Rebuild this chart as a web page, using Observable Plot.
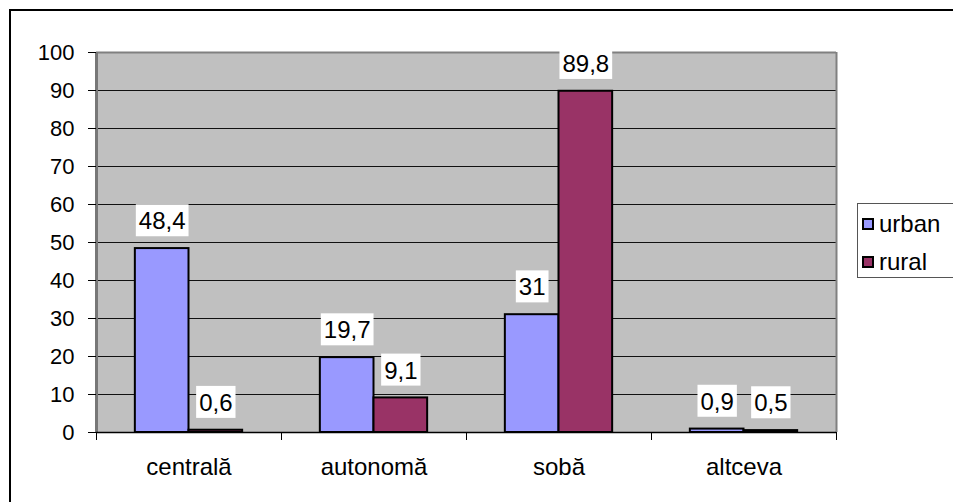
<!DOCTYPE html>
<html><head><meta charset="utf-8">
<script src="https://cdn.jsdelivr.net/npm/d3@7"></script>
<script src="https://cdn.jsdelivr.net/npm/@observablehq/plot@0.6"></script>
<style>
html,body{margin:0;padding:0;background:#fff;overflow:hidden;}
#wrap{position:relative;width:953px;height:502px;font-family:"Liberation Sans",Arial,sans-serif;color:#000;}
#outer{position:absolute;left:9px;top:9px;width:1000px;height:600px;border:2px solid #000;box-sizing:border-box;pointer-events:none;}
#chart{position:absolute;left:0;top:0;}
#legend{position:absolute;left:857px;top:203px;width:120px;height:75px;border:1px solid #555;box-sizing:border-box;background:#fff;}
.row{position:absolute;left:4px;height:30px;display:flex;align-items:center;font-size:24px;}
.sw{width:8px;height:8px;border:2px solid #000;margin-right:5px;}
</style>
</head><body>
<div id="wrap"><div id="outer"></div><div id="chart"></div><div id="legend"></div></div>
<script>
const categories = ["centrală", "autonomă", "sobă", "altceva"];
const series = ["urban", "rural"];
const urban = [48.4, 19.7, 31, 0.9];
const rural = [0.6, 9.1, 89.8, 0.5];
const yTicks = [0, 10, 20, 30, 40, 50, 60, 70, 80, 90, 100];
const colors = ["#9999ff", "#993366"];

const values = {urban, rural};
const table = categories.flatMap((c, i) => series.map((s, j) => ({cat: c, i, series: s, j, value: values[s][i]})));

const bw = 0.29;
const fmt = v => String(v).replace(".", ",");

const plot = Plot.plot({
  width: 953,
  height: 502,
  marginLeft: 96,
  marginRight: 117,
  marginTop: 52,
  marginBottom: 70,
  style: {fontFamily: '"Liberation Sans", Arial, sans-serif', background: "transparent", color: "#000"},
  x: {type: "linear", domain: [0, categories.length], axis: null},
  y: {domain: [0, 100], axis: null},
  color: {domain: series, range: colors},
  marks: [
    Plot.frame({fill: "#c0c0c0", stroke: "none"}),
    Plot.gridY(yTicks.filter(t => t > 0 && t < 100), {stroke: "#111", strokeOpacity: 1, strokeWidth: 1}),
    Plot.ruleY([100], {stroke: "#808080", strokeWidth: 2}),
    Plot.ruleX([categories.length], {stroke: "#808080", strokeWidth: 2}),
    Plot.ruleX([0], {stroke: "#777", strokeWidth: 3}),
    Plot.rectY(table, {
      x1: d => d.i + 0.5 - bw + d.j * bw,
      x2: d => d.i + 0.5 + d.j * bw,
      y: "value",
      fill: "series",
      stroke: "#000",
      strokeWidth: 2
    }),
    Plot.ruleY([0], {stroke: "#000", strokeWidth: 1.5}),
    Plot.axisY({ticks: yTicks, tickSize: 8, tickPadding: 14, fontSize: 22, stroke: "#000", tickFormat: d => d, label: null}),
    Plot.axisX({ticks: d3.range(categories.length + 1), tickSize: 8, tickFormat: () => "", stroke: "#000", label: null}),
    Plot.text(categories, {x: (d, i) => i + 0.5, frameAnchor: "bottom", dy: 35, lineAnchor: "middle", fontSize: 24, text: d => d}),
    Plot.text(table, {
      x: d => d.i + 0.5 - bw / 2 + d.j * bw,
      y: "value",
      dy: -27,
      lineAnchor: "middle",
      text: d => fmt(d.value),
      fontSize: 24,
      fill: "#000",
      ariaLabel: "value-labels"
    })
  ]
});

document.getElementById("chart").appendChild(plot);

// white boxes behind the value labels
const labelSet = new Set(table.map(d => fmt(d.value)));
const NS = "http://www.w3.org/2000/svg";
const labelTexts = Array.from(plot.querySelectorAll("text")).filter(t => labelSet.has(t.textContent));
for (const t of labelTexts) {
  const b = t.getBBox();
  const r = document.createElementNS(NS, "rect");
  r.setAttribute("x", b.x - 3);
  r.setAttribute("y", b.y - 3);
  r.setAttribute("width", b.width + 6);
  r.setAttribute("height", b.height + 5);
  r.setAttribute("fill", "#fff");
  r.setAttribute("stroke", "none");
  const tr = t.getAttribute("transform");
  if (tr) r.setAttribute("transform", tr);
  t.parentNode.insertBefore(r, t);
}

// legend
const col = plot.scale("color");
const leg = document.getElementById("legend");
series.forEach((s, k) => {
  const row = document.createElement("div");
  row.className = "row";
  row.style.top = (5 + k * 38) + "px";
  const sw = document.createElement("div");
  sw.className = "sw";
  sw.style.background = col.apply(s);
  const tx = document.createElement("span");
  tx.textContent = s;
  row.appendChild(sw);
  row.appendChild(tx);
  leg.appendChild(row);
});
</script>
</body></html>
